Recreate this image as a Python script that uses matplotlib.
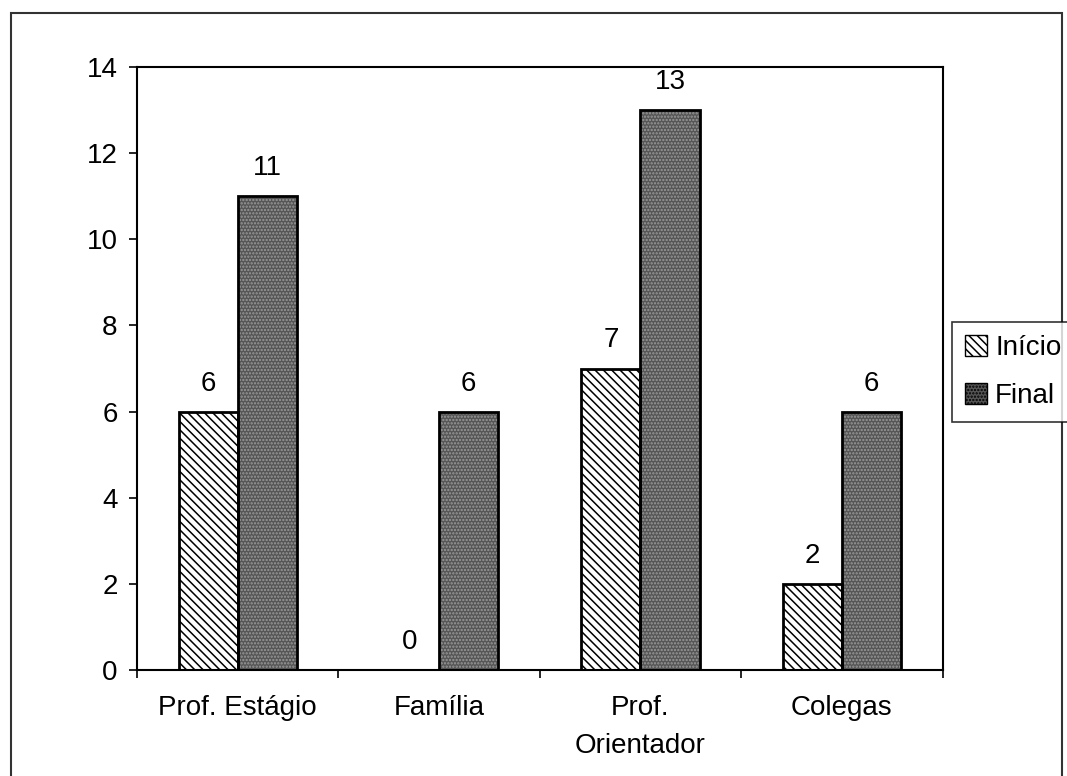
import numpy as np
import matplotlib.pyplot as plt
from matplotlib.patches import Rectangle, Patch

plt.rcParams['font.family'] = ['Liberation Sans', 'DejaVu Sans']
plt.rcParams['hatch.linewidth'] = 1.1

# categories and counts
categorias = ['Prof. Estágio', 'Família', 'Prof.\nOrientador', 'Colegas']
inicio = [6, 0, 7, 2]
final = [11, 6, 13, 6]

FS = 20
CINZA = '#555555'


def draw_bars(ax, x, vals, hatch, face, hatch_col):
    # fill + hatch first, then the black outline on top
    ax.bar(x, vals, width=0.293, facecolor=face, edgecolor=hatch_col,
           hatch=hatch, linewidth=0, zorder=2)
    ax.bar(x, vals, width=0.293, facecolor='none', edgecolor='black',
           linewidth=2, zorder=3)


def main():
    fig = plt.figure(figsize=(10.67, 7.76), dpi=100)
    ax = fig.add_axes([0.1284, 0.1366, 0.755, 0.777])

    x = np.arange(len(categorias))
    w = 0.293
    draw_bars(ax, x - w / 2, inicio, '\\\\\\\\', 'white', 'black')
    draw_bars(ax, x + w / 2, final, '.....', CINZA, '#9a9a9a')

    for xi, v in zip(x - w / 2, inicio):
        ax.text(xi, v + 0.35, str(v), ha='center', va='bottom', fontsize=FS)
    for xi, v in zip(x + w / 2, final):
        ax.text(xi, v + 0.35, str(v), ha='center', va='bottom', fontsize=FS)

    ax.set_xlim(-0.5, len(categorias) - 0.5)
    ax.set_ylim(0, 14)
    ax.set_yticks(range(0, 15, 2))
    ax.tick_params(axis='y', labelsize=FS, direction='out', length=6, width=1.2, pad=8)

    # category boundaries carry the ticks, labels sit in the middle
    ax.set_xticks(np.arange(-0.5, len(categorias), 1.0))
    ax.set_xticklabels([])
    ax.tick_params(axis='x', direction='out', length=6, width=1.2)
    ax.set_xticks(x, minor=True)
    ax.set_xticklabels(categorias, minor=True, fontsize=FS, linespacing=1.6)
    ax.tick_params(axis='x', which='minor', length=0, pad=18)

    for s in ax.spines.values():
        s.set_linewidth(1.5)

    leg_handles = [
        Patch(facecolor='white', edgecolor='black', hatch='\\\\\\\\', label='Início'),
        Patch(facecolor=CINZA, edgecolor='black', hatch='.....', label='Final'),
    ]
    leg = fig.legend(handles=leg_handles, loc='upper left',
                     bbox_to_anchor=(952 / 1067, 1 - 322 / 776),
                     fontsize=FS, frameon=True, fancybox=False,
                     handlelength=0.8, handleheight=0.8, handletextpad=0.3,
                     borderpad=0.45, labelspacing=0.8, borderaxespad=0)
    leg.get_frame().set_edgecolor('black')
    leg.get_frame().set_linewidth(1.2)

    # outer chart border
    fig.patches.append(Rectangle((11 / 1067, -0.05), (1062 - 11) / 1067,
                                 1.05 - 13 / 776, transform=fig.transFigure,
                                 fill=False, edgecolor='#333333', linewidth=1.5))

    fig.savefig('out.png', dpi=100)


if __name__ == "__main__":
    main()
